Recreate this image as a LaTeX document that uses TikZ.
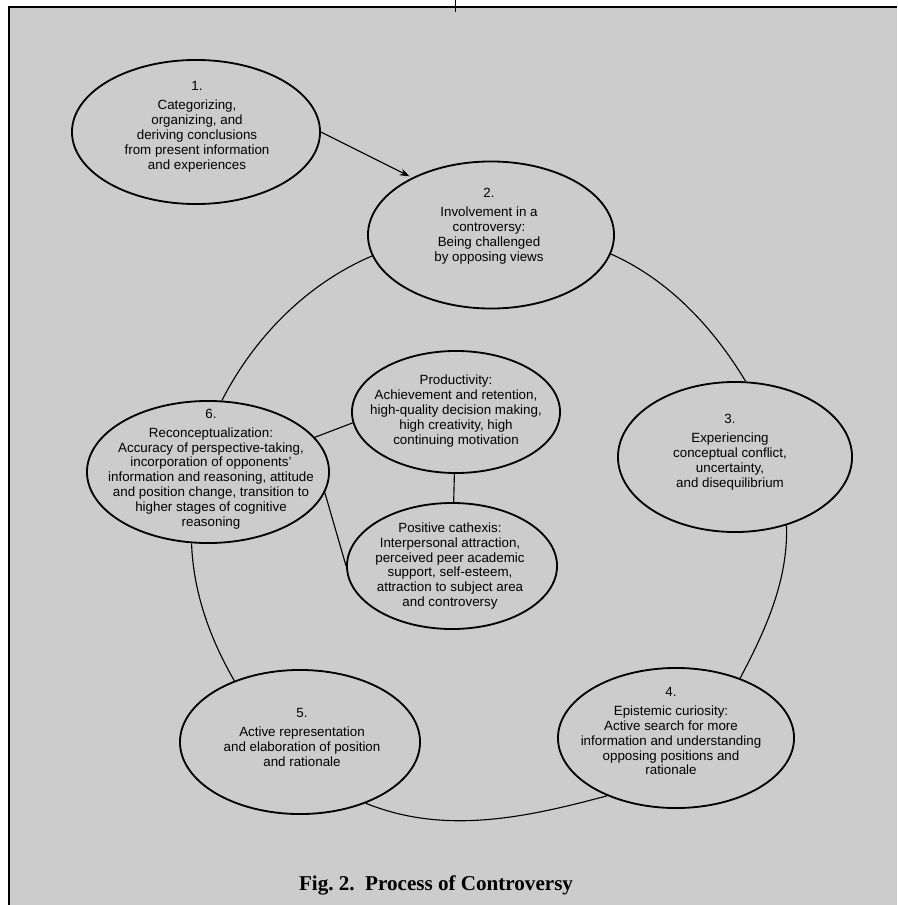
\documentclass[tikz,border=0pt]{standalone}
\usepackage{fontspec}
\setmainfont{Liberation Sans}
\newfontfamily\capfont{Liberation Serif}
\usetikzlibrary{shapes.geometric,arrows.meta}

\tikzset{
  stage/.style={ellipse, draw, line width=1.3pt},
  txt/.style={align=center, inner sep=0pt, font=\fontsize{9.5}{10.6}\selectfont},
  link/.style={line width=0.8pt},
}

\begin{document}
\begin{tikzpicture}[x=0.025cm, y=-0.025cm]
  \useasboundingbox (0,0) rectangle (897,905);

  %% Backdrop and frame
  \fill[black!20] (9,7) rectangle (897,905);
  \draw[line width=1pt] (9,905) -- (9,7) -- (897,7);
  \draw[line width=0.6pt] (455,0) -- (455,12);

  %% Stages
  \node[stage, minimum width=6.2cm, minimum height=3.6cm] (e1) at (196,132) {};
  \node[txt] (e1t) at (197,127) {1.\\[3pt] Categorizing,\\ organizing, and\\
    deriving conclusions\\ from present information\\ and experiences};

  \node[stage, minimum width=6.15cm, minimum height=3.675cm] (e2) at (491,235) {};
  \node[txt] (e2t) at (489,226) {2.\\[3pt] Involvement in a\\ controversy:\\
    Being challenged\\ by opposing views};

  \node[stage, minimum width=5.85cm, minimum height=3.75cm] (e3) at (735,457) {};
  \node[txt] (e3t) at (730,452) {3.\\[3pt] Experiencing\\ conceptual conflict,\\
    uncertainty,\\ and disequilibrium};

  \node[stage, minimum width=5.9cm, minimum height=3.5cm] (e4) at (676,738) {};
  \node[txt] (e4t) at (671,731) {4.\\[3pt] Epistemic curiosity:\\ Active search for more\\
    information and understanding\\ opposing positions and\\ rationale};

  \node[stage, minimum width=6cm, minimum height=3.6cm] (e5) at (300,742) {};
  \node[txt] (e5t) at (302,737) {5.\\[3pt] Active representation\\
    and elaboration of position\\ and rationale};

  \node[stage, minimum width=6.05cm, minimum height=3.55cm] (e6) at (208,472) {};
  \node[txt] (e6t) at (211,469) {6.\\[3pt] Reconceptualization:\\
    Accuracy of perspective-taking,\\ incorporation of opponents'\\
    information and reasoning, attitude\\ and position change, transition to\\
    higher stages of cognitive\\ reasoning};

  %% Outcomes
  \node[stage, minimum width=5.2cm, minimum height=3.05cm] (prod) at (456,412) {};
  \node[txt] (prodt) at (456,411) {Productivity:\\ Achievement and retention,\\
    high-quality decision making,\\ high creativity, high\\ continuing motivation};

  \node[stage, minimum width=5.25cm, minimum height=3.15cm] (cath) at (452,566) {};
  \node[txt] (catht) at (450,566) {Positive cathexis:\\ Interpersonal attraction,\\
    perceived peer academic\\ support, self-esteem,\\ attraction to subject area\\
    and controversy};

  %% Cycle
  \draw[link] (e2.-9) to[out=-24, in=121, looseness=0.87] (e3.82);
  \draw[link] (e3.-53) to[out=-88, in=62, looseness=0.87] (e4.43);
  \draw[link] (e4.-140) to[out=-165, in=-22, looseness=0.9] (e5.-43);
  \draw[link] (e5.137) to[out=120, in=-88, looseness=0.87] (e6.-103);
  \draw[link] (e6.79) to[out=63, in=-157, looseness=0.87] (e2.190);

  \draw[link, -{Stealth[length=7pt,width=5pt]}, shorten >=2pt] (e1.east) -- (e2.144);

  %% Outcome links
  \draw[link] (e6.18) -- (prod.186);
  \draw[link] (e6.-10) -- (cath.180);
  \draw[link] (prod) -- (cath);

  \node[anchor=base, font=\capfont\bfseries\fontsize{15}{18}\selectfont] (cap)
    at (436,890) {Fig.\ 2.\ \ Process of Controversy};
\end{tikzpicture}
\end{document}
